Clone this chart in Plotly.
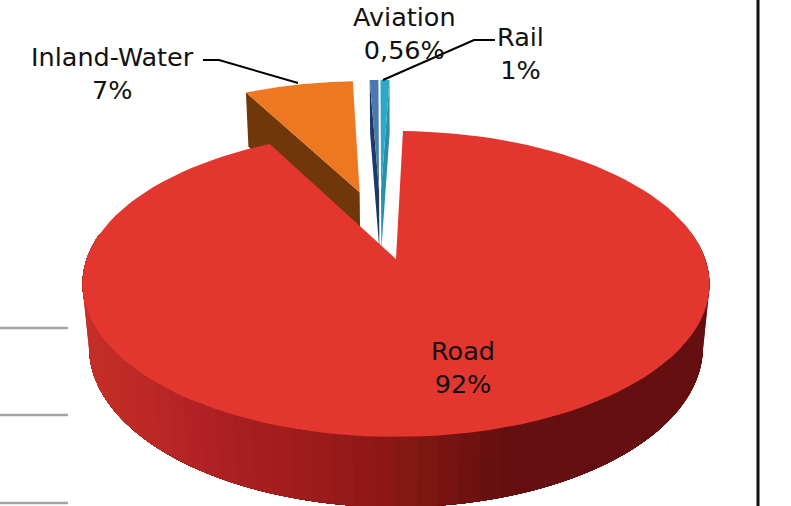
"""
Exploded perspective pie of transport modal share, drawn with filled Scatter
polygons because go.Pie has no tilt or depth. Slice angles come from the values.
"""

import numpy as np
import plotly.graph_objects as go

categories = ["Road", "Inland-Water", "Aviation", "Rail"]
shares = [92, 7, 0.56, 0.6]  # rail is printed as 1% but drawn about as thin as aviation
share_labels = ["92%", "7%", "0,56%", "1%"]

top_colors = ["#e2362f", "#ee7722", "#4a78b0", "#2fa8c8"]
wall_colors = [None, "#6f370a", "#1d3a63", "#2a8fac"]
explode_size = [0.0, 0.5, 0.5, 0.5]
explode_angle = [0.0, 345.3, 353.2, 354.0]
wall_side = [None, "left", "left", "right"]

label_x = [463, 112, 404, 520]
label_y = [367, 73, 33, 53]

# rim colours of the road slice, by screen x
rim_x = [83, 150, 200, 250, 320, 400, 440, 490, 520, 710]
rim_rgb = [
    (198, 47, 40), (189, 40, 37), (180, 34, 38), (168, 31, 31), (156, 27, 26),
    (138, 23, 22), (122, 22, 16), (106, 17, 16), (101, 15, 17), (101, 15, 17),
]

WIDTH, HEIGHT = 791, 506
START_ANGLE = 1.5

# perspective projection fitted to the picture
CX, CY = 396.0, 259.0
AX, AY = 309.3, 148.9
TILT = 0.1634
DROP = 64.0
SHRINK = 0.021


def project(u, v, depth=0.0):
    w = 1 + TILT * v + SHRINK * depth
    return CX + AX * u / w, CY - (AY * v - DROP * depth) / w


def arc(a0, a1, n=120):
    t = np.radians(np.linspace(a0, a1, n))
    return np.sin(t), np.cos(t)


def poly(x, y, color):
    return go.Scatter(
        x=x, y=y, mode="lines", fill="toself", fillcolor=color,
        line=dict(color=color, width=0), hoverinfo="skip", showlegend=False,
    )


def rim_color(x):
    r, g, b = [np.interp(x, rim_x, [c[i] for c in rim_rgb]) for i in range(3)]
    return f"rgb({r:.0f},{g:.0f},{b:.0f})"


def slice_parts(start, sweep, size, direction, side="left"):
    d = np.radians(direction)
    ou, ov = size * np.sin(d), size * np.cos(d)
    u, v = arc(start, start + sweep)
    top = project(np.r_[ou, u + ou], np.r_[ov, v + ov])
    # the one cut wall you can see on a pulled-out slice
    k = 0 if side == "left" else -1
    wu = np.array([ou, u[k] + ou, u[k] + ou, ou])
    wv = np.array([ov, v[k] + ov, v[k] + ov, ov])
    wd = np.array([0, 0, 1, 1])
    wall = project(wu, wv, wd)
    return top, wall


fig = go.Figure()

sweeps = 360 * np.array(shares) / np.sum(shares)
starts = START_ANGLE + np.r_[0, np.cumsum(sweeps)[:-1]]

for i in [1, 2, 3]:
    top, wall = slice_parts(starts[i], sweeps[i], explode_size[i], explode_angle[i], wall_side[i])
    fig.add_trace(poly(*wall, wall_colors[i]))
    fig.add_trace(poly(*top, top_colors[i]))

# road rim: each band runs on to the far end and the next one paints over it,
# which keeps hairline seams out of the shading
END_RIM = 280
for a0 in np.linspace(80, END_RIM, 61)[:-1]:
    u, v = arc(a0, END_RIM, 80)
    x0, y0 = project(u, v)
    x1, y1 = project(u[::-1], v[::-1], 1.0)
    fig.add_trace(poly(np.r_[x0, x1], np.r_[y0, y1], rim_color(x0[:2].mean())))

top, _ = slice_parts(starts[0], sweeps[0], 0, 0)
fig.add_trace(poly(*top, top_colors[0]))

# leader lines
leader_lines = [
    ([203, 219, 298], [60, 60, 83]),
    ([495, 474, 383], [40, 40, 80]),
]
for lx, ly in leader_lines:
    fig.add_trace(go.Scatter(x=lx, y=ly, mode="lines", line=dict(color="#000000", width=2),
                             hoverinfo="skip", showlegend=False))

# bits of the page around the chart
for gy in [328, 415, 503]:
    fig.add_trace(go.Scatter(x=[0, 68], y=[gy, gy], mode="lines", line=dict(color="#a3a3a3", width=2.4),
                             hoverinfo="skip", showlegend=False))
fig.add_trace(go.Scatter(x=[758, 758], y=[0, HEIGHT], mode="lines", line=dict(color="#111111", width=3),
                         hoverinfo="skip", showlegend=False))

for name, pct, lx, ly in zip(categories, share_labels, label_x, label_y):
    fig.add_annotation(x=lx, y=ly, text=f"{name}<br>{pct}", showarrow=False,
                       xanchor="center", yanchor="middle",
                       font=dict(family="DejaVu Sans", size=25.5, color="#111111"))

fig.update_layout(
    width=WIDTH, height=HEIGHT,
    margin=dict(l=0, r=0, t=0, b=0),
    paper_bgcolor="white", plot_bgcolor="white",
    showlegend=False,
    xaxis=dict(range=[0, WIDTH], visible=False),
    yaxis=dict(range=[HEIGHT, 0], visible=False),
)

fig.write_html("out.html", config=dict(displayModeBar=False),
               post_script="document.body.style.margin='0';document.body.style.overflow='hidden';")
